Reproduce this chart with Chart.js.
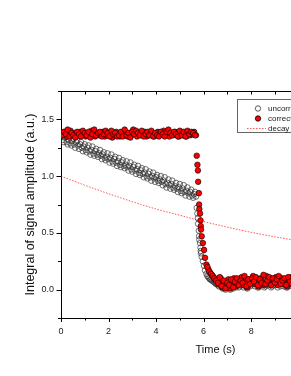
<!DOCTYPE html>
<html>
<head>
<meta charset="utf-8">
<script src="https://cdn.jsdelivr.net/npm/chart.js@4/dist/chart.umd.min.js"></script>
<style>
html, body { margin: 0; padding: 0; background: #fff; overflow: hidden; width: 291px; height: 376px; }
#wrap { position: absolute; left: 0; top: 0; width: 400px; height: 376px; }
</style>
</head>
<body>
<div id="wrap"><canvas id="c" width="400" height="376"></canvas></div>
<script>
// ---- data ----
const times = [
  0,0.08,0.16,0.24,0.32,0.4,0.48,0.56,0.64,0.72,
  0.8,0.88,0.96,1.04,1.12,1.2,1.28,1.36,1.44,1.52,
  1.6,1.68,1.76,1.84,1.92,2,2.08,2.16,2.24,2.32,
  2.4,2.48,2.56,2.64,2.72,2.8,2.88,2.96,3.04,3.12,
  3.2,3.28,3.36,3.44,3.52,3.6,3.68,3.76,3.84,3.92,
  4,4.08,4.16,4.24,4.32,4.4,4.48,4.56,4.64,4.72,
  4.8,4.88,4.96,5.04,5.12,5.2,5.28,5.36,5.44,5.52,
  5.6,5.68,
  5.71,5.74,5.76,5.77,5.8,5.81,5.82,5.85,5.87,5.88,
  5.89,5.92,5.97,6.02,6.06,6.12,6.2,6.27,6.35,6.42,6.48,
  6.56,6.64,6.72,6.8,6.88,6.96,7.04,7.12,7.2,7.28,
  7.36,7.44,7.52,7.6,7.68,7.76,7.84,7.92,8,8.08,
  8.16,8.24,8.32,8.4,8.48,8.56,8.64,8.72,8.8,8.88,
  8.96,9.04,9.12,9.2,9.28,9.36,9.44,9.52,9.6,9.68,
  9.76,9.84,9.92,10
];
const uncorrected = [
  1.35,1.32,1.34,1.30,1.32,1.29,1.31,1.28,1.30,1.27,
  1.28,1.25,1.26,1.23,1.25,1.22,1.23,1.20,1.22,1.19,
  1.20,1.18,1.19,1.16,1.17,1.15,1.16,1.13,1.15,1.12,
  1.13,1.10,1.12,1.09,1.10,1.08,1.09,1.06,1.08,1.05,
  1.06,1.03,1.05,1.02,1.03,1.00,1.02,0.99,1.00,0.98,
  0.99,0.96,0.97,0.95,0.96,0.93,0.94,0.92,0.93,0.90,
  0.91,0.89,0.90,0.87,0.89,0.86,0.87,0.85,0.86,0.83,
  0.84,0.82,
  0.72,0.67,0.63,0.58,0.52,0.47,0.44,0.41,0.37,0.34,
  0.32,0.29,0.25,0.21,0.17,0.14,0.11,0.09,0.08,0.07,0.06,
  0.05,0.03,0.07,0.01,0.04,0.02,0.06,0.00,0.04,0.07,
  0.02,0.06,0.03,0.08,0.02,0.05,0.01,0.07,0.04,0.09,
  0.03,0.06,0.02,0.08,0.05,0.02,0.09,0.04,0.07,0.03,
  0.06,0.08,0.02,0.05,0.08,0.03,0.07,0.02,0.05,0.09,
  0.04,0.06,0.02,0.07
];
const corrected = [
  1.38,1.36,1.39,1.35,1.37,1.40,1.36,1.38,1.35,1.37,
  1.39,1.36,1.37,1.35,1.38,1.36,1.40,1.37,1.35,1.38,
  1.36,1.37,1.39,1.35,1.36,1.38,1.37,1.34,1.36,1.39,
  1.37,1.35,1.38,1.36,1.37,1.35,1.38,1.36,1.41,1.37,
  1.35,1.38,1.36,1.37,1.39,1.35,1.37,1.36,1.38,1.35,
  1.37,1.39,1.36,1.38,1.40,1.36,1.37,1.35,1.38,1.36,
  1.39,1.37,1.35,1.38,1.36,1.37,1.35,1.38,1.36,1.37,
  1.39,1.36,
  1.18,1.10,1.05,0.95,0.85,0.75,0.71,0.67,0.61,0.56,
  0.53,0.47,0.41,0.35,0.28,0.22,0.18,0.15,0.13,0.11,0.09,
  0.08,0.05,0.10,0.02,0.07,0.04,0.09,0.01,0.06,0.10,
  0.03,0.08,0.05,0.11,0.04,0.07,0.02,0.09,0.06,0.12,
  0.05,0.08,0.03,0.10,0.07,0.04,0.12,0.06,0.09,0.05,
  0.08,0.11,0.04,0.07,0.10,0.05,0.09,0.03,0.07,0.11,
  0.06,0.08,0.04,0.09
];
// interleaved samples (the reference record is denser than one list shows)
const timesExtra = [
  0.04,0.12,0.2,0.28,0.36,0.44,0.52,0.6,0.68,0.76,
  0.84,0.92,1,1.08,1.16,1.24,1.32,1.4,1.48,1.56,
  1.64,1.72,1.8,1.88,1.96,2.04,2.12,2.2,2.28,2.36,
  2.44,2.52,2.6,2.68,2.76,2.84,2.92,3,3.08,3.16,
  3.24,3.32,3.4,3.48,3.56,3.64,3.72,3.8,3.88,3.96,
  4.04,4.12,4.2,4.28,4.36,4.44,4.52,4.6,4.68,4.76,
  4.84,4.92,5,5.08,5.16,5.24,5.32,5.4,5.48,5.56,
  5.64,
  6.16,6.24,6.31,6.38,6.45,6.52,
  6.6,6.68,6.76,6.84,6.92,7,7.08,7.16,7.24,7.32,
  7.4,7.48,7.56,7.64,7.72,7.8,7.88,7.96,8.04,8.12,
  8.2,8.28,8.36,8.44,8.52,8.6,8.68,8.76,8.84,8.92,
  9,9.08,9.16,9.24,9.32,9.4,9.48,9.56,9.64,9.72,
  9.8,9.88,9.96
];
const uncorrectedExtra = [
  1.37,1.30,1.35,1.28,1.34,1.27,1.33,1.25,1.31,1.24,
  1.30,1.22,1.28,1.21,1.27,1.19,1.26,1.18,1.24,1.17,
  1.23,1.15,1.21,1.14,1.20,1.12,1.19,1.11,1.17,1.09,
  1.16,1.08,1.14,1.07,1.13,1.05,1.12,1.04,1.10,1.02,
  1.09,1.01,1.07,0.99,1.06,0.98,1.04,0.96,1.03,0.95,
  1.01,0.94,1.00,0.92,0.99,0.90,0.97,0.89,0.96,0.88,
  0.94,0.86,0.93,0.85,0.92,0.83,0.90,0.82,0.88,0.81,
  0.86,
  0.12,0.10,0.09,0.08,0.07,0.05,
  0.04,0.08,0.02,0.05,0.00,0.04,0.02,0.06,0.01,0.05,
  0.07,0.02,0.06,0.04,0.09,0.02,0.06,0.03,0.07,0.05,
  0.08,0.02,0.06,0.04,0.10,0.03,0.05,0.08,0.02,0.07,
  0.04,0.06,0.09,0.03,0.05,0.07,0.02,0.08,0.05,0.03,
  0.06,0.09,0.04
];
const correctedExtra = [
  1.36,1.39,1.37,1.41,1.35,1.38,1.36,1.34,1.39,1.37,
  1.35,1.40,1.38,1.36,1.39,1.34,1.37,1.41,1.36,1.38,
  1.39,1.35,1.37,1.40,1.38,1.35,1.40,1.37,1.38,1.35,
  1.36,1.39,1.35,1.41,1.36,1.38,1.34,1.39,1.37,1.40,
  1.38,1.36,1.40,1.35,1.37,1.39,1.36,1.40,1.35,1.38,
  1.36,1.35,1.39,1.37,1.35,1.39,1.41,1.38,1.36,1.39,
  1.37,1.35,1.40,1.36,1.39,1.35,1.40,1.37,1.39,1.38,
  1.36,
  0.20,0.16,0.14,0.12,0.10,0.08,
  0.06,0.11,0.03,0.08,0.01,0.06,0.04,0.09,0.02,0.07,
  0.10,0.04,0.08,0.06,0.12,0.03,0.09,0.05,0.10,0.07,
  0.11,0.04,0.09,0.06,0.13,0.05,0.08,0.11,0.04,0.10,
  0.06,0.09,0.12,0.05,0.08,0.10,0.04,0.11,0.07,0.05,
  0.09,0.12,0.06
];
const decayTimes = [0,1,2,3,4,5,6,7,8,9,10,11,12,13];
const decayValues = [1.00,0.92,0.845,0.775,0.71,0.655,0.60,0.55,0.505,0.465,0.43,0.395,0.36,0.33];
const seriesNames = ['uncorrected', 'corrected', 'decay'];
const xTitle = 'Time (s)';
const yTitle = 'Integral of signal amplitude (a.u.)';

const pts = (xs, ys) => xs.map((x, i) => ({ x: x, y: ys[i] }));
const FONT = 'Liberation Sans, Arial, sans-serif';

const ticksPlugin = {
  id: 'originFrame',
  afterDraw(chart) {
    const ctx = chart.ctx, ca = chart.chartArea;
    const xs = chart.scales.x, ys = chart.scales.y;
    ctx.save();
    ctx.strokeStyle = '#000';
    ctx.lineWidth = 1;
    ctx.beginPath();
    ctx.moveTo(ca.left, Math.round(ca.top) + 0.5);
    ctx.lineTo(ca.right, Math.round(ca.top) + 0.5);
    ctx.moveTo(Math.round(ca.right) + 0.5, ca.top);
    ctx.lineTo(Math.round(ca.right) + 0.5, ca.bottom);
    xs.ticks.forEach(t => {
      const px = Math.round(xs.getPixelForValue(t.value)) + 0.5;
      const major = Math.abs(t.value % 2) < 1e-6;
      const len = major ? 4 : 2.5;
      ctx.moveTo(px, Math.round(ca.bottom));
      ctx.lineTo(px, Math.round(ca.bottom) + len);
      ctx.moveTo(px, Math.round(ca.top));
      ctx.lineTo(px, Math.round(ca.top) + 3.5);
    });
    ys.ticks.forEach(t => {
      const py = Math.round(ys.getPixelForValue(t.value)) + 0.5;
      const major = Math.abs(t.value * 2 - Math.round(t.value * 2)) < 1e-6;
      const len = major ? 4.5 : 3;
      ctx.moveTo(Math.round(ca.left), py);
      ctx.lineTo(Math.round(ca.left) - len, py);
    });
    ctx.stroke();

    // legend box
    const lx = 237, ly = 99, lw = 110, lh = 33;
    ctx.strokeStyle = '#666';
    ctx.strokeRect(lx + 0.5, ly + 0.5, lw, lh);
    const rows = [108.5, 118.5, 128.5];
    const ds = chart.data.datasets;
    ctx.font = '8px ' + FONT;
    ctx.textBaseline = 'middle';
    ctx.textAlign = 'left';
    for (let i = 0; i < 3; i++) {
      const d = ds[i];
      if (d.type === 'line') {
        ctx.save();
        ctx.strokeStyle = d.borderColor;
        ctx.lineWidth = d.borderWidth;
        ctx.setLineDash(d.borderDash);
        ctx.beginPath();
        ctx.moveTo(247, rows[i]);
        ctx.lineTo(266, rows[i]);
        ctx.stroke();
        ctx.restore();
      } else {
        ctx.beginPath();
        ctx.arc(258, rows[i], 2.7, 0, Math.PI * 2);
        ctx.fillStyle = d.backgroundColor;
        ctx.fill();
        ctx.lineWidth = 0.8;
        ctx.strokeStyle = d.borderColor;
        ctx.stroke();
      }
      ctx.fillStyle = '#222';
      ctx.fillText(d.label, 268, rows[i]);
    }
    ctx.restore();
  }
};

new Chart(document.getElementById('c'), {
  data: {
    datasets: [
      {
        type: 'scatter', label: seriesNames[0],
        data: pts(times.concat(timesExtra), uncorrected.concat(uncorrectedExtra)),
        pointRadius: 2.8, pointBorderWidth: 0.7,
        backgroundColor: 'rgba(255,255,255,0)', borderColor: '#333',
        order: 1
      },
      {
        type: 'scatter', label: seriesNames[1],
        data: pts(times.concat(timesExtra), corrected.concat(correctedExtra)),
        pointRadius: 2.8, pointBorderWidth: 0.6,
        backgroundColor: '#ff0000', borderColor: '#000',
        order: 0
      },
      {
        type: 'line', label: seriesNames[2], data: pts(decayTimes, decayValues),
        borderColor: 'rgba(255,0,0,0.85)', borderWidth: 0.8, borderDash: [1.5, 1.5],
        pointRadius: 0, fill: false, cubicInterpolationMode: 'monotone',
        order: 2
      }
    ]
  },
  options: {
    responsive: false,
    animation: false,
    devicePixelRatio: 1,
    layout: { padding: { top: 91, right: 30, left: 0, bottom: 0 } },
    plugins: { legend: { display: false }, tooltip: { enabled: false } },
    scales: {
      x: {
        type: 'linear', position: 'bottom', min: 0, max: 13,
        afterFit: s => { s.height = 58; },
        grid: { display: false, drawTicks: false },
        border: { display: true, color: '#000', width: 1 },
        ticks: {
          stepSize: 1, autoSkip: false, maxRotation: 0, padding: 8,
          color: '#222', font: { family: FONT, size: 9 },
          callback: v => (Math.abs(v % 2) < 1e-6 ? String(v) : '')
        },
        title: { display: true, text: xTitle, color: '#111', font: { family: FONT, size: 11 }, padding: { top: 0, bottom: 19 } }
      },
      y: {
        type: 'linear', position: 'left', min: -0.25, max: 1.75,
        afterFit: s => { s.width = 61; },
        grid: { display: false, drawTicks: false },
        border: { display: true, color: '#000', width: 1 },
        ticks: {
          stepSize: 0.25, autoSkip: false, padding: 7,
          color: '#222', font: { family: FONT, size: 9 },
          callback: v => (Math.abs(v * 2 - Math.round(v * 2)) < 1e-6 ? v.toFixed(1) : '')
        },
        title: { display: true, text: yTitle, color: '#111', font: { family: FONT, size: 12.5 }, padding: { top: 23, bottom: 0 } }
      }
    }
  },
  plugins: [ticksPlugin]
});
</script>
</body>
</html>
